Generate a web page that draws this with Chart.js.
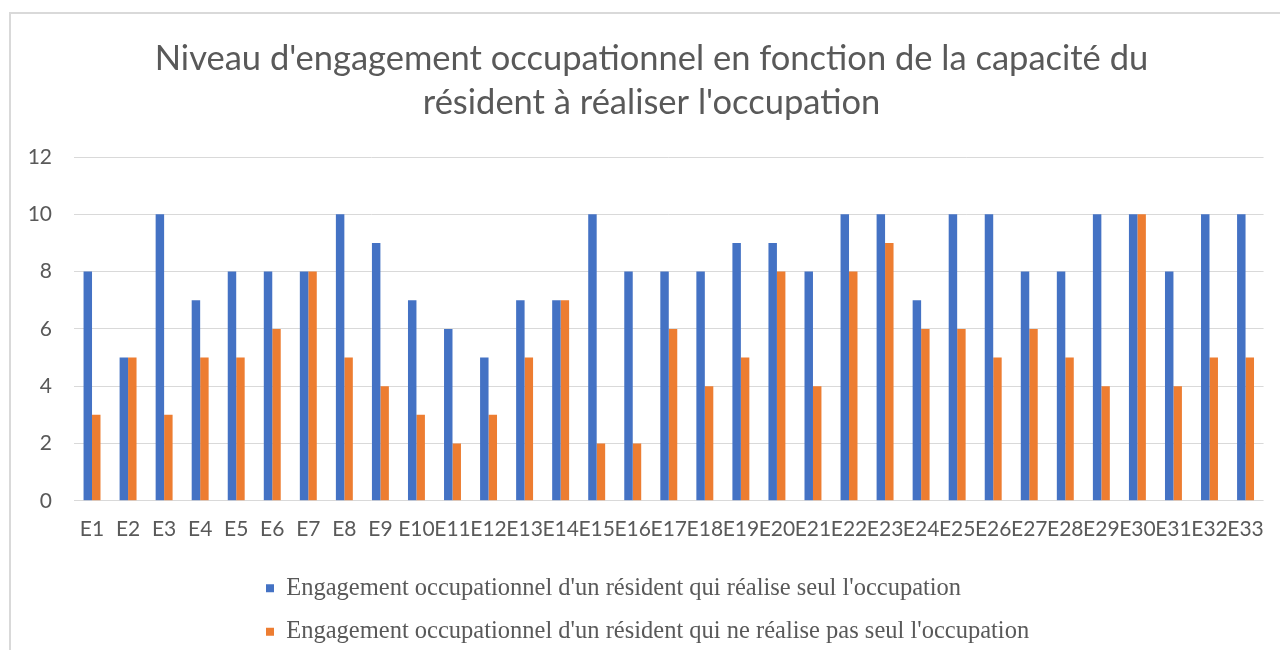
<!DOCTYPE html>
<html>
<head>
<meta charset="utf-8">
<script src="https://cdn.jsdelivr.net/npm/chart.js@4"></script>
<style>
  html, body { margin: 0; padding: 0; background: #fff; }
  #wrap { position: relative; width: 1280px; height: 650px; overflow: hidden; }
  #frame { position: absolute; left: 9px; top: 12px; width: 1400px; height: 800px; border: 2px solid #d9d9d9; box-sizing: border-box; }
  #c { position: absolute; left: 0; top: 0; }
</style>
</head>
<body>
<div id="wrap">
  <div id="frame"></div>
  <canvas id="c" width="1280" height="650"></canvas>
</div>
<script>
const categories = ["E1","E2","E3","E4","E5","E6","E7","E8","E9","E10","E11","E12","E13","E14","E15","E16","E17","E18","E19","E20","E21","E22","E23","E24","E25","E26","E27","E28","E29","E30","E31","E32","E33"];
const seulValues = [8,5,10,7,8,8,8,10,9,7,6,5,7,7,10,8,8,8,9,9,8,10,10,7,10,10,8,8,10,10,8,10,10];
const pasSeulValues = [3,5,3,5,5,6,8,5,4,3,2,3,5,7,2,2,6,4,5,8,4,8,9,6,6,5,6,5,4,10,4,5,5];
const seriesNames = [
  "Engagement occupationnel d'un résident qui réalise seul l'occupation",
  "Engagement occupationnel d'un résident qui ne réalise pas seul l'occupation"
];
const titleLines = ["Niveau d'engagement occupationnel en fonction de la capacité du", "résident à réaliser l'occupation"];
const yTicks = [0, 2, 4, 6, 8, 10, 12];

const boxShift = {
  id: 'boxShift',
  beforeDraw(chart) {
    const lg = chart.legend;
    if (lg) { lg.left = 247; lg.top = 557; }
    const tb = chart.titleBlock;
    if (tb) { tb.left = 18; tb.right = 1285; }
  }
};

new Chart(document.getElementById('c'), {
  type: 'bar',
  data: {
    labels: categories,
    datasets: [
      { label: seriesNames[0], data: seulValues, backgroundColor: '#4472C4', categoryPercentage: 0.47, barPercentage: 1 },
      { label: seriesNames[1], data: pasSeulValues, backgroundColor: '#ED7D31', categoryPercentage: 0.47, barPercentage: 1 }
    ]
  },
  options: {
    responsive: false,
    animation: false,
    layout: { padding: { left: 0, right: 14, top: 0, bottom: -5 } },
    plugins: {
      title: {
        display: true,
        text: titleLines,
        color: '#595959',
        font: { family: 'Lato', size: 34.5, weight: 'normal', lineHeight: '44px' },
        padding: { top: 37, bottom: 32 }
      },
      legend: {
        position: 'bottom',
        align: 'start',
        labels: {
          color: '#595959',
          font: { family: 'Liberation Serif', size: 24.5 },
          boxWidth: 8,
          boxHeight: 8,
          padding: 19
        }
      },
      tooltip: { enabled: false }
    },
    scales: {
      x: {
        grid: { display: false, drawTicks: false },
        border: { display: false },
        ticks: { color: '#595959', font: { family: 'Lato', size: 21 }, padding: 16, maxRotation: 0, autoSkip: false }
      },
      y: {
        min: 0, max: 12,
        afterFit(scale) { scale.width = 74; },
        afterBuildTicks(scale) { scale.ticks = yTicks.map(v => ({ value: v })); },
        grid: { color: '#d9d9d9', lineWidth: 1, drawTicks: false },
        border: { display: false },
        ticks: { color: '#595959', font: { family: 'Lato', size: 21 }, padding: 22 }
      }
    }
  },
  plugins: [boxShift]
});
</script>
</body>
</html>
